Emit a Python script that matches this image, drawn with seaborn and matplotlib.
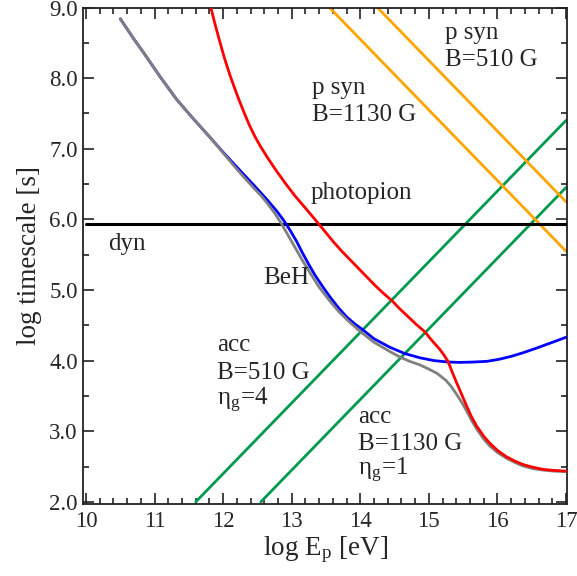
import numpy as np
import pandas as pd
import matplotlib
matplotlib.use("Agg")
import matplotlib.pyplot as plt
from matplotlib.ticker import MultipleLocator, FormatStrFormatter
import seaborn as sns

# ---------------- data ----------------
# Bethe-Heitler loss (blue)
beh_x = [10.50, 10.70, 10.84, 11.08, 11.32, 11.56, 11.81, 12.00, 12.20, 12.49,
         12.63, 12.78, 12.88, 12.98, 13.07, 13.16, 13.25, 13.34, 13.45, 13.56,
         13.68, 13.80, 13.92, 14.02, 14.20, 14.43, 14.65, 14.87, 15.08, 15.28,
         15.46, 15.65, 15.85, 16.03, 16.20, 16.37, 16.55, 16.72, 16.86, 17.00]
beh_y = [8.84, 8.55, 8.36, 8.02, 7.70, 7.43, 7.16, 6.95, 6.74, 6.44,
         6.29, 6.12, 5.99, 5.84, 5.69, 5.52, 5.36, 5.21, 5.05, 4.90,
         4.75, 4.62, 4.52, 4.45, 4.31, 4.19, 4.10, 4.04, 4.00, 3.98,
         3.975, 3.98, 3.99, 4.02, 4.06, 4.11, 4.17, 4.23, 4.28, 4.33]

# total (grey)
tot_x = [10.50, 10.70, 10.84, 11.08, 11.32, 11.56, 11.81, 12.00, 12.20, 12.45,
         12.55, 12.65, 12.75, 12.85, 12.95, 13.05, 13.15, 13.27, 13.40, 13.56,
         13.70, 13.85, 13.99, 14.20, 14.43, 14.58, 14.72, 14.87, 15.00, 15.12,
         15.25, 15.33, 15.40, 15.48, 15.55, 15.62, 15.70, 15.80, 15.89, 16.00,
         16.13, 16.25, 16.37, 16.52, 16.67, 16.83, 17.00]
tot_y = [8.84, 8.55, 8.36, 8.02, 7.70, 7.43, 7.16, 6.94, 6.71, 6.44,
         6.34, 6.22, 6.09, 5.94, 5.77, 5.60, 5.43, 5.24, 5.04, 4.84,
         4.68, 4.54, 4.42, 4.26, 4.13, 4.05, 3.99, 3.94, 3.88, 3.82,
         3.72, 3.63, 3.53, 3.41, 3.29, 3.16, 3.03, 2.89, 2.79, 2.70,
         2.62, 2.56, 2.51, 2.47, 2.45, 2.435, 2.43]

# photopion (red)
pgamma_x = [11.82, 11.88, 11.95, 12.02, 12.10, 12.17, 12.24, 12.31, 12.38, 12.46,
            12.54, 12.65, 12.76, 12.90, 13.05, 13.20, 13.39, 13.50, 13.61, 13.73,
            13.85, 13.99, 14.10, 14.20, 14.33, 14.46, 14.58, 14.70, 14.82, 14.94,
            15.05, 15.16, 15.22, 15.28, 15.34, 15.40, 15.48, 15.55, 15.62, 15.70,
            15.80, 15.89, 16.00, 16.13, 16.25, 16.37, 16.52, 16.67, 16.83, 17.00]
pgamma_y = [9.00, 8.77, 8.52, 8.28, 8.04, 7.85, 7.67, 7.50, 7.34, 7.18,
            7.04, 6.87, 6.71, 6.52, 6.33, 6.16, 5.94, 5.81, 5.68, 5.55,
            5.43, 5.29, 5.18, 5.08, 4.96, 4.85, 4.73, 4.62, 4.51, 4.41,
            4.28, 4.16, 4.08, 3.99, 3.84, 3.70, 3.52, 3.36, 3.21, 3.07,
            2.93, 2.83, 2.73, 2.64, 2.58, 2.53, 2.49, 2.46, 2.445, 2.435]

psyn1130_x = [13.55, 17.00]
psyn1130_y = [9.00, 5.55]
psyn510_x = [14.25, 17.00]
psyn510_y = [9.00, 6.25]

acc510_x = [11.60, 17.00]
acc510_y = [2.00, 7.40]
acc1130_x = [12.55, 17.00]
acc1130_y = [2.00, 6.45]

dyn_x = [10.00, 17.00]
dyn_y = [5.94, 5.94]

x_ticks = [10, 11, 12, 13, 14, 15, 16, 17]
y_ticks = [2, 3, 4, 5, 6, 7, 8, 9]

# ---------------- style ----------------
sns.set_theme(style="ticks")
plt.rcParams["font.family"] = ["Liberation Serif", "DejaVu Serif"]
plt.rcParams["mathtext.fontset"] = "stix"

fig = plt.figure(figsize=(5.77, 5.76), dpi=100)
ax = fig.add_axes([83.3 / 577, 1 - 504 / 576, (567.3 - 83.3) / 577, (504 - 7.5) / 576])

GREEN = "#009a4e"
ORANGE = "#ffa500"
LW = 2.0

def draw(xs, ys, color, z, lw=LW):
    df = pd.DataFrame({"x": xs, "y": ys})
    sns.lineplot(data=df, x="x", y="y", color=color, lw=lw, ax=ax,
                 sort=False, estimator=None, zorder=z)

draw(acc510_x, acc510_y, GREEN, 2)
draw(acc1130_x, acc1130_y, GREEN, 2)
draw(psyn1130_x, psyn1130_y, ORANGE, 2)
draw(psyn510_x, psyn510_y, ORANGE, 2)
draw(dyn_x, dyn_y, "black", 3, lw=2.2)
draw(beh_x, beh_y, "#0000ff", 4)
draw(tot_x, tot_y, "#808080", 5)
draw(pgamma_x, pgamma_y, "#ff0000", 6)

ax.set_xlim(9.96, 17.02)
ax.set_ylim(1.97, 9.0)
ax.set_xticks(x_ticks)
ax.set_yticks(y_ticks)
ax.xaxis.set_minor_locator(MultipleLocator(0.2))
ax.yaxis.set_minor_locator(MultipleLocator(0.5))
ax.yaxis.set_major_formatter(FormatStrFormatter("%.1f"))
ax.tick_params(which="both", direction="in", top=True, right=True,
               color="#222222", width=1.2)
ax.tick_params(which="major", length=8, labelsize=16.5)
ax.tick_params(which="minor", length=4.5)
ax.tick_params(axis="x", which="major", pad=5)
ax.tick_params(axis="y", which="major", pad=4)
for s in ax.spines.values():
    s.set_linewidth(1.3)
    s.set_color("#222222")

ax.set_xlabel(r"log E$_\mathregular{p}$ [eV]", fontsize=19.5, labelpad=2)
ax.set_ylabel("log timescale [s]", fontsize=19.5, labelpad=5)

FS = 18
def lab(x, y, s):
    ax.text(x, y, s, fontsize=FS, ha="left", va="baseline", zorder=10)

lab(15.23, 8.55, "p syn")
lab(15.23, 8.17, "B=510 G")
lab(13.30, 7.78, "p syn")
lab(13.30, 7.40, "B=1130 G")
lab(13.27, 6.29, "photopion")
lab(10.32, 5.56, "dyn")
lab(12.58, 5.09, "BeH")
lab(11.91, 4.13, "acc")
lab(11.91, 3.745, "B=510 G")
lab(11.91, 3.38, r"η$_\mathregular{g}$=4")
lab(13.97, 3.12, "acc")
lab(13.97, 2.74, "B=1130 G")
lab(13.97, 2.38, r"η$_\mathregular{g}$=1")

fig.savefig("out.png", dpi=100)
